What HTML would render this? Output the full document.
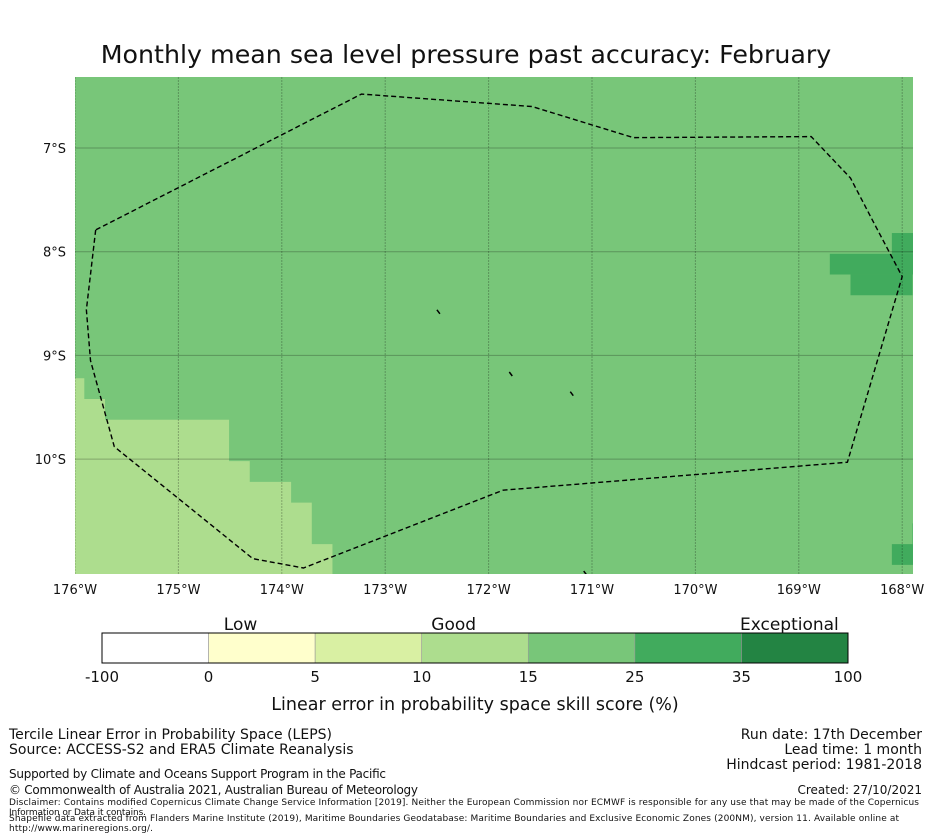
<!DOCTYPE html>
<html><head><meta charset="utf-8"><style>
html,body{margin:0;padding:0;background:#fff;}
svg{display:block;font-family:"DejaVu Sans","Liberation Sans",sans-serif;}
</style></head><body>
<svg width="931" height="839" viewBox="0 0 931 839">
<text x="466" y="63" font-size="25.3" text-anchor="middle" fill="#111">Monthly mean sea level pressure past accuracy: February</text>
<defs><clipPath id="mc"><rect x="75" y="77" width="838" height="497"/></clipPath></defs>
<g id="map" clip-path="url(#mc)"></g>
<g id="axes"></g>
<g id="cbar"></g>
<text x="475" y="710" font-size="17.5" text-anchor="middle" fill="#111">Linear error in probability space skill score (%)</text>
<g font-size="14" fill="#111">
<text x="9" y="739">Tercile Linear Error in Probability Space (LEPS)</text>
<text x="9" y="754">Source: ACCESS-S2 and ERA5 Climate Reanalysis</text>
<text x="9" y="778" font-size="12" textLength="377">Supported by Climate and Oceans Support Program in the Pacific</text>
<text x="9" y="794" font-size="12" textLength="409">© Commonwealth of Australia 2021, Australian Bureau of Meteorology</text>
<text x="922" y="739" text-anchor="end">Run date: 17th December</text>
<text x="922" y="754" text-anchor="end">Lead time: 1 month</text>
<text x="922" y="769" text-anchor="end">Hindcast period: 1981-2018</text>
<text x="922" y="794" text-anchor="end" font-size="12">Created: 27/10/2021</text>
<text x="9" y="805" font-size="9" textLength="910">Disclaimer: Contains modified Copernicus Climate Change Service Information [2019]. Neither the European Commission nor ECMWF is responsible for any use that may be made of the Copernicus</text>
<text x="9" y="815" font-size="9" textLength="137">Information or Data it contains.</text>
<text x="9" y="821" font-size="9" textLength="890">Shapefile data extracted from Flanders Marine Institute (2019), Maritime Boundaries Geodatabase: Maritime Boundaries and Exclusive Economic Zones (200NM), version 11. Available online at</text>
<text x="9" y="831" font-size="9" textLength="144">http://www.marineregions.org/.</text>
</g>
</svg>
<script>
const NS="http://www.w3.org/2000/svg";
const lonTicks=[-176,-175,-174,-173,-172,-171,-170,-169,-168];
const lonLabels=["176°W","175°W","174°W","173°W","172°W","171°W","170°W","169°W","168°W"];
const latTicks=[-7,-8,-9,-10];
const latLabels=["7°S","8°S","9°S","10°S"];
const cbBounds=[-100,0,5,10,15,25,35,100];
const cbColors=["#ffffff","#ffffcc","#d9f0a3","#addd8e","#78c679","#41ab5d","#238443"];
const cbCategories=["Low","Good","Exceptional"];
const cbCategoryPos=[1.3,3.3,6.45];
const lightRegion=[[-176,-9.22],[-175.91,-9.22],[-175.91,-9.42],[-175.71,-9.42],[-175.71,-9.62],[-174.51,-9.62],[-174.51,-10.02],[-174.31,-10.02],[-174.31,-10.22],[-173.91,-10.22],[-173.91,-10.42],[-173.71,-10.42],[-173.71,-10.82],[-173.51,-10.82],[-173.51,-11.2],[-176,-11.2]];
const darkCells=[[-168.1,-7.82,0.21,0.2],[-168.7,-8.02,0.81,0.2],[-168.5,-8.22,0.6,0.2],[-168.1,-10.82,0.21,0.2],[-167.9,-10.62,0.1,0.2]];
const eez=[[-175.8,-7.79],[-175.89,-8.56],[-175.85,-9.05],[-175.62,-9.88],[-174.28,-10.96],[-173.79,-11.05],[-171.86,-10.3],[-168.53,-10.03],[-168.0,-8.24],[-168.27,-7.73],[-168.5,-7.29],[-168.88,-6.89],[-170.6,-6.90],[-171.58,-6.6],[-173.23,-6.48],[-175.8,-7.79]];
const islands=[[-172.5,-8.56],[-171.8,-9.16],[-171.21,-9.35],[-171.08,-11.08]];
const x=l=>75+(l+176)*103.4;
const y=l=>148+(-7-l)*103.7;
function el(t,a,p){const e=document.createElementNS(NS,t);for(const k in a)e.setAttribute(k,a[k]);p.appendChild(e);return e;}
const map=document.getElementById('map'),axes=document.getElementById('axes'),cb=document.getElementById('cbar');
const bg=el('rect',{x:75,y:77,width:838,height:497,fill:'#78c679'},map);


const lr=el('polygon',{points:lightRegion.map(p=>x(p[0])+','+y(p[1])).join(' '),fill:'#addd8e'},map);


darkCells.forEach(c=>{const r=el('rect',{x:x(c[0]),y:y(c[1]),width:c[2]*103.4,height:c[3]*103.7,fill:'#41ab5d'},map);

});
lonTicks.forEach((v,i)=>{const g=el('line',{x1:x(v),x2:x(v),y1:77,y2:574,stroke:'#000','stroke-opacity':0.25,'stroke-width':1,'stroke-dasharray':'2,1'},map);


const t=el('text',{x:x(v),y:594,'font-size':13,'text-anchor':'middle',fill:'#111'},axes);t.textContent=lonLabels[i];

});
latTicks.forEach((v,i)=>{const g=el('line',{x1:75,x2:913,y1:y(v),y2:y(v),stroke:'#000','stroke-opacity':0.25,'stroke-width':1},map);


const t=el('text',{x:66,y:y(v)+5,'font-size':13,'text-anchor':'end',fill:'#111'},axes);t.textContent=latLabels[i];

});
const ez=el('polyline',{points:eez.map(p=>x(p[0])+','+y(p[1])).join(' '),fill:'none',stroke:'#000','stroke-width':1.4,'stroke-dasharray':'5,3'},map);


islands.forEach(p=>{const s=el('line',{x1:x(p[0]),y1:y(p[1]),x2:x(p[0])+3,y2:y(p[1])+4,stroke:'#000','stroke-width':1.5},map);

});
const cbX=i=>102+i*(746/7);
cbColors.forEach((c,i)=>{const r=el('rect',{x:cbX(i),y:633,width:746/7,height:30,fill:c,stroke:'#999','stroke-width':0.6},cb);

});
el('rect',{x:102,y:633,width:746,height:30,fill:'none',stroke:'#000','stroke-width':1},cb);
cbBounds.forEach((b,i)=>{const t=el('text',{x:cbX(i),y:682,'font-size':15,'text-anchor':'middle',fill:'#111'},cb);t.textContent=b;

});
cbCategories.forEach((c,i)=>{const t=el('text',{x:cbX(cbCategoryPos[i]),y:630,'font-size':17,'text-anchor':'middle',fill:'#111'},cb);t.textContent=c;

});
</script>
</body></html>
